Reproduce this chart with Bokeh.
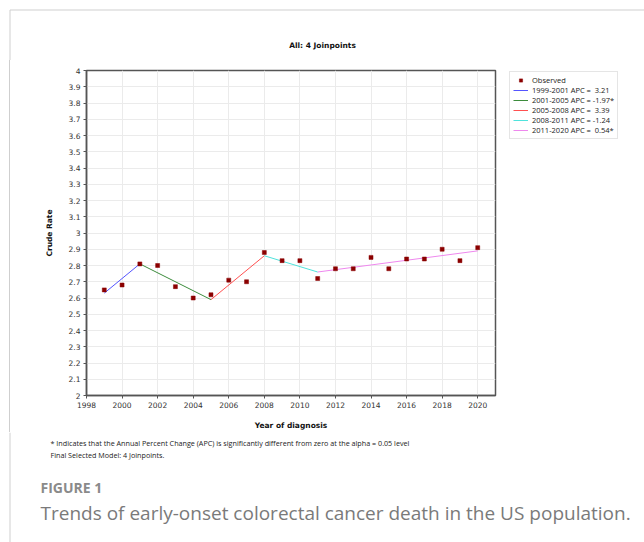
from bokeh.plotting import figure
from bokeh.layouts import column, row
from bokeh.models import (ColumnDataSource, FixedTicker, Legend, LegendItem,
                          Range1d, CustomJSTickFormatter)
from bokeh.core.properties import value
from bokeh.embed import file_html
from bokeh.resources import INLINE

# ---------------- data ----------------
years = [1999, 2000, 2001, 2002, 2003, 2004, 2005, 2006, 2007, 2008, 2009,
         2010, 2011, 2012, 2013, 2014, 2015, 2016, 2017, 2018, 2019, 2020]
observed = [2.65, 2.68, 2.81, 2.80, 2.67, 2.60, 2.62, 2.71, 2.70, 2.88, 2.83,
            2.83, 2.72, 2.78, 2.78, 2.85, 2.78, 2.84, 2.84, 2.90, 2.83, 2.91]

seg_labels = ["1999-2001 APC =  3.21", "2001-2005 APC = -1.97*", "2005-2008 APC =  3.39",
              "2008-2011 APC = -1.24", "2011-2020 APC =  0.54*"]
seg_years = [[1999, 2001], [2001, 2005], [2005, 2008], [2008, 2011], [2011, 2020]]
seg_values = [[2.63, 2.81], [2.81, 2.59], [2.59, 2.86], [2.86, 2.76], [2.76, 2.89]]
seg_colors = ["#5555ff", "#3c8c3c", "#ff5050", "#4fe3dc", "#ee88ee"]
obs_label = "Observed"
obs_color = "#8b0000"

y_ticks = [2.0, 2.1, 2.2, 2.3, 2.4, 2.5, 2.6, 2.7, 2.8, 2.9, 3.0,
           3.1, 3.2, 3.3, 3.4, 3.5, 3.6, 3.7, 3.8, 3.9, 4.0]
x_ticks = [1998, 2000, 2002, 2004, 2006, 2008, 2010, 2012, 2014, 2016, 2018, 2020]

title_text = "All: 4 Joinpoints"
footnote1 = "* Indicates that the Annual Percent Change (APC) is significantly different from zero at the alpha = 0.05 level"
footnote2 = "Final Selected Model: 4 Joinpoints."
fig_label = "FIGURE 1"
caption = "Trends of early-onset colorectal cancer death in the US population."

FRAME = "#cfcfcf"
NAN = float("nan")


def band(w, h, x0=0, y0=0):
    """A plain figure whose frame covers the whole canvas, in page pixels."""
    f = figure(width=w, height=h, output_backend="svg", toolbar_location=None,
               x_range=Range1d(x0, x0 + w), y_range=Range1d(y0 + h, y0),
               x_axis_type=None, y_axis_type=None,
               min_border=0, min_border_left=0, min_border_right=0,
               min_border_top=0, min_border_bottom=0)
    f.frame_align = False
    f.outline_line_color = None
    f.xgrid.visible = False
    f.ygrid.visible = False
    return f


# ---------------- top band (title) ----------------
top = band(644, 60, 0, 0)
top.segment(x0=[9.5], y0=[9.5], x1=[644], y1=[9.5], line_color=FRAME, line_width=1)
top.segment(x0=[9.5], y0=[9.5], x1=[9.5], y1=[60], line_color=FRAME, line_width=1)
top.text(x=[322], y=[45], text=[title_text], text_font=value("DejaVu Sans"),
         text_font_style="bold", text_font_size="7.5px", text_color="#111111",
         text_align="center", text_baseline="middle")

# ---------------- main chart ----------------
p = figure(width=505, height=372, output_backend="svg", toolbar_location=None,
           x_range=Range1d(1998, 2021), y_range=Range1d(2, 4),
           min_border_left=86, min_border_right=10, min_border_top=10, min_border_bottom=35)
p.frame_align = False
p.border_fill_color = None
p.styles = {"background-image": "linear-gradient(#cfcfcf, #cfcfcf)",
            "background-size": "1px 100%", "background-position": "9px 0",
            "background-repeat": "no-repeat", "background-color": "white"}
p.outline_line_color = "#555555"
p.outline_line_width = 1.5

for ax in (p.xaxis[0], p.yaxis[0]):
    ax.axis_line_color = "#555555"
    ax.axis_line_width = 1.5
    ax.major_tick_line_color = "#555555"
    ax.major_tick_out = 3
    ax.major_tick_in = 0
    ax.minor_tick_line_color = None
    ax.major_label_text_font = "DejaVu Sans"
    ax.major_label_text_font_size = "7.5px"
    ax.major_label_text_color = "#333333"
    ax.axis_label_text_font = "DejaVu Sans"
    ax.axis_label_text_font_style = "bold"
    ax.axis_label_text_font_size = "7.5px"
    ax.axis_label_text_color = "#111111"

p.xaxis.ticker = FixedTicker(ticks=x_ticks)
p.yaxis.ticker = FixedTicker(ticks=y_ticks)
p.yaxis.formatter = CustomJSTickFormatter(code="return String(Math.round(tick*10)/10);")
p.xaxis.axis_label = "Year of diagnosis"
p.yaxis.axis_label = "Crude Rate"
p.xaxis.axis_label_standoff = 10
p.yaxis.axis_label_standoff = 12
p.xaxis.major_label_standoff = 3
p.yaxis.major_label_standoff = 3

p.xgrid.grid_line_color = "#ebebeb"
p.ygrid.grid_line_color = "#ebebeb"

src = ColumnDataSource(dict(x=years, y=observed))
for xs, ys, col in zip(seg_years, seg_values, seg_colors):
    p.line(xs, ys, line_color=col, line_width=1)
p.scatter("x", "y", source=src, marker="square", size=4,
          fill_color=obs_color, line_color=obs_color, line_width=0.5)

# ---------------- legend panel (right of the chart) ----------------
leg = band(139, 372, 505, 60)
items = []
r_obs = leg.scatter(x=[NAN], y=[NAN], marker="square", size=4,
                    fill_color=obs_color, line_color=obs_color, line_width=0.5)
items.append(LegendItem(label=obs_label, renderers=[r_obs]))
for lab, col in zip(seg_labels, seg_colors):
    r = leg.line(x=[NAN, NAN], y=[NAN, NAN], line_color=col, line_width=1)
    items.append(LegendItem(label=lab, renderers=[r]))

legend = Legend(items=items, location=(4, 293))
legend.border_line_color = "#cccccc"
legend.label_text_font = "Open Sans"
legend.label_text_font_size = "7.5px"
legend.label_text_color = "#222222"
legend.label_height = 10
legend.glyph_height = 8
legend.glyph_width = 15
legend.spacing = 0
legend.padding = 3
legend.label_standoff = 4
legend.margin = 0
leg.add_layout(legend)

# ---------------- bottom band (notes + caption) ----------------
bot = band(644, 110, 0, 432)
bot.segment(x0=[9.5], y0=[432], x1=[9.5], y1=[542], line_color=FRAME, line_width=1)
bot.text(x=[50, 50], y=[442, 454], text=[footnote1, footnote2], text_font=value("Open Sans"),
         text_font_size="7.2px", text_color="#222222", text_align="left", text_baseline="middle")
bot.text(x=[40], y=[487], text=[fig_label], text_font=value("Open Sans"),
         text_font_style="bold", text_font_size="14px", text_color="#8a8a8a",
         text_align="left", text_baseline="middle")
bot.text(x=[40], y=[512], text=[caption], text_font=value("Open Sans"),
         text_font_size="19px", text_color="#7a7a7a",
         text_align="left", text_baseline="middle")

layout = column(top, row(p, leg), bot)
open("out.html", "w").write(file_html(layout, INLINE))
